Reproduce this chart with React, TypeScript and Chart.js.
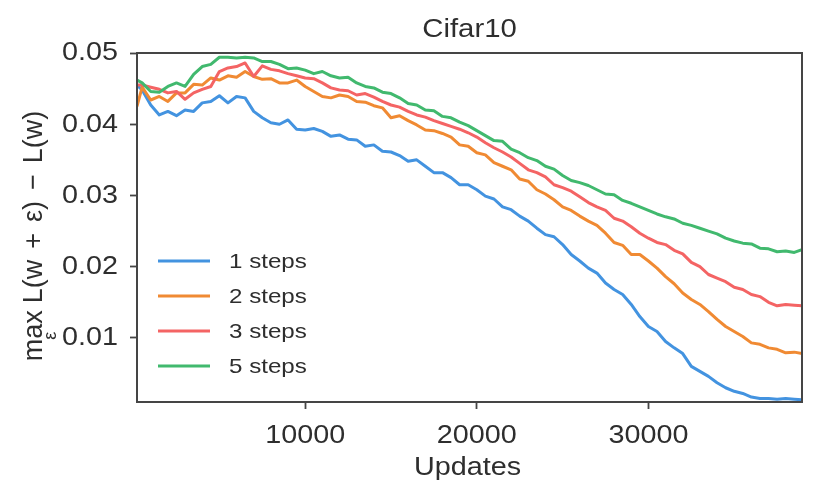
import React, { useEffect, useRef } from 'react';
import { Chart, registerables } from 'chart.js';

Chart.register(...registerables);

const chartTitle = 'Cifar10';
const xAxisTitle = 'Updates';
const seriesLabels = ['1 steps', '2 steps', '3 steps', '5 steps'];
const seriesColors = ['#4393e0', '#f08a33', '#f46464', '#41b96e'];
const xTicks = [10000, 20000, 30000];
const xTickLabels = ['10000', '20000', '30000'];
const yTicks = [0.01, 0.02, 0.03, 0.04, 0.05];
const yTickLabels = ['0.01', '0.02', '0.03', '0.04', '0.05'];

const updates = [
  200, 500, 1000, 1500, 2000, 2500, 3000, 3500, 4000, 4500,
  5000, 5500, 6000, 6500, 7000, 7500, 8000, 8500, 9000, 9500,
  10000, 10500, 11000, 11500, 12000, 12500, 13000, 13500, 14000, 14500,
  15000, 15500, 16000, 16500, 17000, 17500, 18000, 18500, 19000, 19500,
  20000, 20500, 21000, 21500, 22000, 22500, 23000, 23500, 24000, 24500,
  25000, 25500, 26000, 26500, 27000, 27500, 28000, 28500, 29000, 29500,
  30000, 30500, 31000, 31500, 32000, 32500, 33000, 33500, 34000, 34500,
  35000, 35500, 36000, 36500, 37000, 37500, 38000, 38500, 38950,
];

const steps1 = [
  0.0455, 0.0448, 0.0427, 0.0413, 0.0418, 0.0412, 0.0420, 0.0418, 0.0430, 0.0432,
  0.0440, 0.0430, 0.0439, 0.0437, 0.0418, 0.0409, 0.0402, 0.0400, 0.0406, 0.0393,
  0.0392, 0.0394, 0.0390, 0.0383, 0.0385, 0.0379, 0.0378, 0.0369, 0.0371, 0.0362,
  0.0361, 0.0356, 0.0348, 0.0350, 0.0341, 0.0332, 0.0332, 0.0325, 0.0315, 0.0315,
  0.0308, 0.0299, 0.0295, 0.0284, 0.0280, 0.0271, 0.0264, 0.0254, 0.0245, 0.0242,
  0.0231, 0.0217, 0.0208, 0.0198, 0.0191, 0.0177, 0.0168, 0.0161, 0.0147, 0.0130,
  0.0116, 0.0109, 0.0095, 0.0086, 0.0078, 0.0060, 0.0053, 0.0046, 0.0037, 0.0030,
  0.0025, 0.0022, 0.0017, 0.0015, 0.0015, 0.0014, 0.0015, 0.0014, 0.0013,
];

const steps2 = [
  0.0425, 0.0452, 0.0434, 0.0439, 0.0432, 0.0444, 0.0444, 0.0456, 0.0455, 0.0465,
  0.0462, 0.0468, 0.0466, 0.0474, 0.0467, 0.0463, 0.0464, 0.0458, 0.0458, 0.0462,
  0.0453, 0.0446, 0.0439, 0.0437, 0.0441, 0.0439, 0.0432, 0.0431, 0.0426, 0.0423,
  0.0409, 0.0412, 0.0405, 0.0399, 0.0392, 0.0391, 0.0387, 0.0382, 0.0371, 0.0369,
  0.0360, 0.0357, 0.0346, 0.0341, 0.0336, 0.0323, 0.0320, 0.0308, 0.0302, 0.0294,
  0.0284, 0.0279, 0.0271, 0.0264, 0.0258, 0.0247, 0.0234, 0.0230, 0.0217, 0.0217,
  0.0208, 0.0198, 0.0186, 0.0176, 0.0163, 0.0154, 0.0147, 0.0137, 0.0126, 0.0116,
  0.0109, 0.0102, 0.0093, 0.0091, 0.0086, 0.0084, 0.0079, 0.0080, 0.0078,
];

const steps3 = [
  0.0455, 0.0455, 0.0452, 0.0449, 0.0444, 0.0446, 0.0435, 0.0444, 0.0449, 0.0453,
  0.0474, 0.0479, 0.0481, 0.0486, 0.0467, 0.0482, 0.0477, 0.0475, 0.0471, 0.0468,
  0.0465, 0.0464, 0.0458, 0.0451, 0.0448, 0.0447, 0.0441, 0.0443, 0.0438, 0.0432,
  0.0427, 0.0424, 0.0418, 0.0413, 0.0410, 0.0405, 0.0401, 0.0397, 0.0393, 0.0388,
  0.0382, 0.0374, 0.0367, 0.0361, 0.0354, 0.0345, 0.0336, 0.0332, 0.0326, 0.0315,
  0.0311, 0.0306, 0.0298, 0.0290, 0.0284, 0.0279, 0.0268, 0.0264, 0.0256, 0.0247,
  0.0240, 0.0234, 0.0231, 0.0223, 0.0218, 0.0206, 0.0200, 0.0189, 0.0184, 0.0179,
  0.0171, 0.0168, 0.0161, 0.0158, 0.0150, 0.0145, 0.0147, 0.0146, 0.0145,
];

const steps5 = [
  0.0462, 0.0458, 0.0446, 0.0445, 0.0453, 0.0458, 0.0453, 0.0470, 0.0481, 0.0484,
  0.0494, 0.0494, 0.0493, 0.0494, 0.0493, 0.0488, 0.0488, 0.0484, 0.0478, 0.0479,
  0.0476, 0.0471, 0.0474, 0.0468, 0.0465, 0.0466, 0.0458, 0.0453, 0.0451, 0.0445,
  0.0443, 0.0437, 0.0429, 0.0427, 0.0420, 0.0419, 0.0411, 0.0409, 0.0403, 0.0398,
  0.0391, 0.0384, 0.0377, 0.0376, 0.0365, 0.0360, 0.0353, 0.0349, 0.0341, 0.0337,
  0.0328, 0.0321, 0.0318, 0.0314, 0.0308, 0.0302, 0.0301, 0.0293, 0.0289, 0.0284,
  0.0279, 0.0274, 0.0270, 0.0267, 0.0261, 0.0258, 0.0254, 0.0250, 0.0246, 0.0240,
  0.0236, 0.0233, 0.0232, 0.0226, 0.0225, 0.0221, 0.0222, 0.0220, 0.0224,
];

const seriesValues = [steps1, steps2, steps3, steps5];

const FONT = '"Liberation Sans", Arial, Helvetica, sans-serif';
const TEXT = '#2e2e2e';
const AXIS = '#454545';
const STRETCH = 1.15;

function stretchedText(ctx: any, text: string, x: number, y: number, align: string, baseline: string) {
  ctx.save();
  ctx.translate(x, y);
  ctx.scale(STRETCH, 1);
  ctx.textAlign = align;
  ctx.textBaseline = baseline;
  ctx.fillText(text, 0, 0);
  ctx.restore();
}

const decorPlugin = {
  id: 'decor',
  afterDraw(chart: any) {
    const { ctx, chartArea: a } = chart;
    const xs = chart.scales.x;
    const ys = chart.scales.y;
    ctx.save();
    // frame
    ctx.strokeStyle = AXIS;
    ctx.lineWidth = 2;
    ctx.strokeRect(a.left, a.top, a.right - a.left, a.bottom - a.top);

    const cx = (a.left + a.right) / 2;
    ctx.fillStyle = TEXT;

    // tick labels
    ctx.font = `25px ${FONT}`;
    xTicks.forEach((v, i) => {
      stretchedText(ctx, xTickLabels[i], xs.getPixelForValue(v), 442.5, 'center', 'alphabetic');
    });
    yTicks.forEach((v, i) => {
      stretchedText(ctx, yTickLabels[i], a.left - 19, ys.getPixelForValue(v) + 0.5, 'right', 'middle');
    });

    // titles
    ctx.font = `25.5px ${FONT}`;
    stretchedText(ctx, chartTitle, cx, 36.5, 'center', 'alphabetic');
    ctx.font = `25px ${FONT}`;
    stretchedText(ctx, xAxisTitle, cx - 2, 475, 'center', 'alphabetic');

    // y axis title: max_eps L(w + eps) - L(w)
    ctx.save();
    ctx.translate(42, 236);
    ctx.rotate(-Math.PI / 2);
    ctx.scale(1, 1.05);
    ctx.textAlign = 'left';
    ctx.textBaseline = 'alphabetic';
    const big = `27px ${FONT}`;
    const small = `18px ${FONT}`;
    ctx.font = big;
    const parts = ['max', 'L(w', '+', '\u03b5)', '\u2212', 'L(w)'];
    const gaps = [7, 11, 11, 11, 11];
    const widths = parts.map((p) => ctx.measureText(p).width);
    const total = widths.reduce((s, w) => s + w, 0) + gaps.reduce((s, g) => s + g, 0);
    let x = -total / 2;
    parts.forEach((p, i) => {
      ctx.font = big;
      ctx.fillText(p, x, 0);
      if (i === 0) {
        ctx.font = small;
        const we = ctx.measureText('\u03b5').width;
        ctx.fillText('\u03b5', x + widths[0] / 2 - we / 2, 13);
      }
      x += widths[i] + (i < gaps.length ? gaps[i] : 0);
    });
    ctx.restore();

    // legend
    ctx.font = `21px ${FONT}`;
    const rows = [261, 296, 331, 366];
    seriesLabels.forEach((lab, i) => {
      ctx.strokeStyle = seriesColors[i];
      ctx.lineWidth = 3;
      ctx.lineCap = 'butt';
      ctx.beginPath();
      ctx.moveTo(158, rows[i]);
      ctx.lineTo(210, rows[i]);
      ctx.stroke();
      ctx.fillStyle = TEXT;
      stretchedText(ctx, lab, 229, rows[i] + 1, 'left', 'middle');
    });
    ctx.restore();
  },
};

export default function App() {
  const ref = useRef<HTMLCanvasElement | null>(null);

  useEffect(() => {
    if (!ref.current) return;
    const datasets = seriesLabels.map((label, i) => ({
      label,
      data: updates.map((u, j) => ({ x: u, y: seriesValues[i][j] })),
      borderColor: seriesColors[i],
      backgroundColor: seriesColors[i],
      borderWidth: 3,
      pointRadius: 0,
      tension: 0,
      fill: false,
      borderJoinStyle: 'round',
      order: 4 - i,
    }));
    const chart = new Chart(ref.current, {
      type: 'line',
      data: { datasets },
      options: {
        animation: false,
        responsive: false,
        devicePixelRatio: 1,
        layout: { padding: { left: 0, right: 28, top: 53, bottom: 0 } },
        plugins: {
          legend: { display: false },
          title: { display: false },
          tooltip: { enabled: false },
        },
        scales: {
          x: {
            type: 'linear',
            min: 200,
            max: 38950,
            afterBuildTicks: (scale: any) => {
              scale.ticks = xTicks.map((v) => ({ value: v }));
            },
            afterFit: (scale: any) => {
              scale.height = 101;
            },
            grid: {
              display: true,
              drawOnChartArea: false,
              drawTicks: true,
              tickLength: 7,
              tickColor: AXIS,
              tickWidth: 1.8,
            },
            border: { display: false },
            ticks: { display: false },
          },
          y: {
            type: 'linear',
            min: 0.001,
            max: 0.05,
            afterBuildTicks: (scale: any) => {
              scale.ticks = yTicks.map((v) => ({ value: v }));
            },
            afterFit: (scale: any) => {
              scale.width = 137;
            },
            grid: {
              display: true,
              drawOnChartArea: false,
              drawTicks: true,
              tickLength: 7,
              tickColor: AXIS,
              tickWidth: 1.8,
            },
            border: { display: false },
            ticks: { display: false },
          },
        },
      },
      plugins: [decorPlugin],
    });
    return () => chart.destroy();
  }, []);

  return (
    <div style={{ position: 'fixed', left: 0, top: 0, width: 830, height: 503, background: '#ffffff' }}>
      <canvas ref={ref} width={830} height={503} style={{ width: 830, height: 503 }} />
    </div>
  );
}
